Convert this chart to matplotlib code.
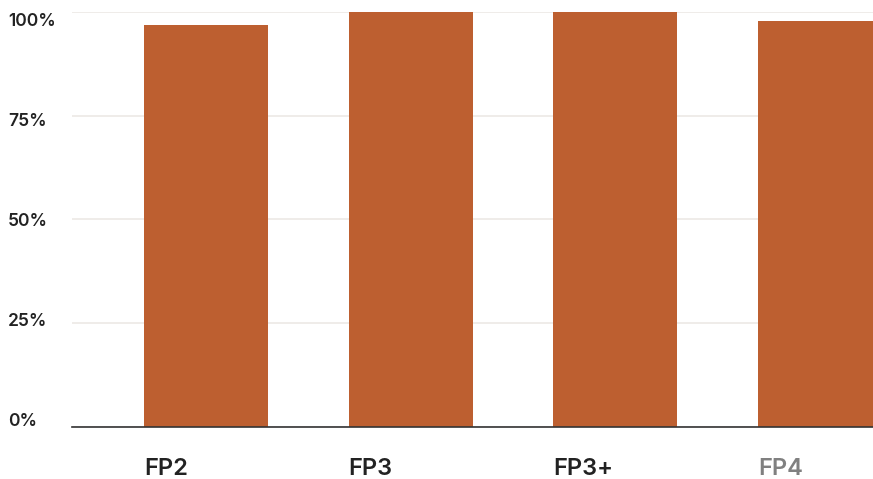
"""Share by FP stage: single-series bar chart."""
import numpy as np
import matplotlib; matplotlib.use('Agg'); import matplotlib.pyplot as plt
from matplotlib.ticker import FuncFormatter
from matplotlib.transforms import ScaledTranslation

BAR='#bd5f30'; INK='#222222'; GREY='#808080'; GRID='#ece9e5'
plt.rcParams.update({'font.family':['Inter','DejaVu Sans'],'figure.dpi':100,'savefig.dpi':100})

categories=['FP2','FP3','FP3+','FP4']
values=[96.9,100.0,100.0,97.8]
label_colors=[INK,INK,INK,GREY]
yticks=[0,25,50,75,100]

fig=plt.figure(figsize=(8.73,4.79))
ax=fig.add_axes([72/873,52/479,801/873,415/479])
x=np.arange(len(categories)); w=0.606
ax.bar(x,values,w,color=BAR,zorder=2,clip_on=True)
ax.set_xlim(-0.655,3.259); ax.set_ylim(0,100)
ax.set_yticks(yticks)
ax.yaxis.set_major_formatter(FuncFormatter(lambda v,p:f'{v:.0f}%'))
ax.grid(axis='y',color=GRID,lw=1.2,zorder=0); ax.set_axisbelow(True)
for s in ['top','right','left']: ax.spines[s].set_visible(False)
ax.spines['bottom'].set_color('#333333'); ax.spines['bottom'].set_linewidth(1.2); ax.spines['bottom'].set_zorder(3)
ax.tick_params(axis='y',length=0,pad=46,labelsize=12.5,labelcolor=INK)
fig.canvas.draw()
for t,v in zip(ax.get_yticklabels(),yticks):
    t.set_ha('left'); t.set_fontweight('semibold')
    # labels sit slightly compressed toward the middle in the original
    d=(-7+15*v/100)/100
    t.set_transform(t.get_transform()+ScaledTranslation(0,-d,fig.dpi_scale_trans))
ax.set_xticks(x-w/2); ax.set_xticklabels(categories)
ax.tick_params(axis='x',length=0,pad=22,labelsize=17)
for t,c in zip(ax.get_xticklabels(),label_colors): t.set_ha('left'); t.set_color(c); t.set_fontweight('semibold')
fig.savefig('out.png')
